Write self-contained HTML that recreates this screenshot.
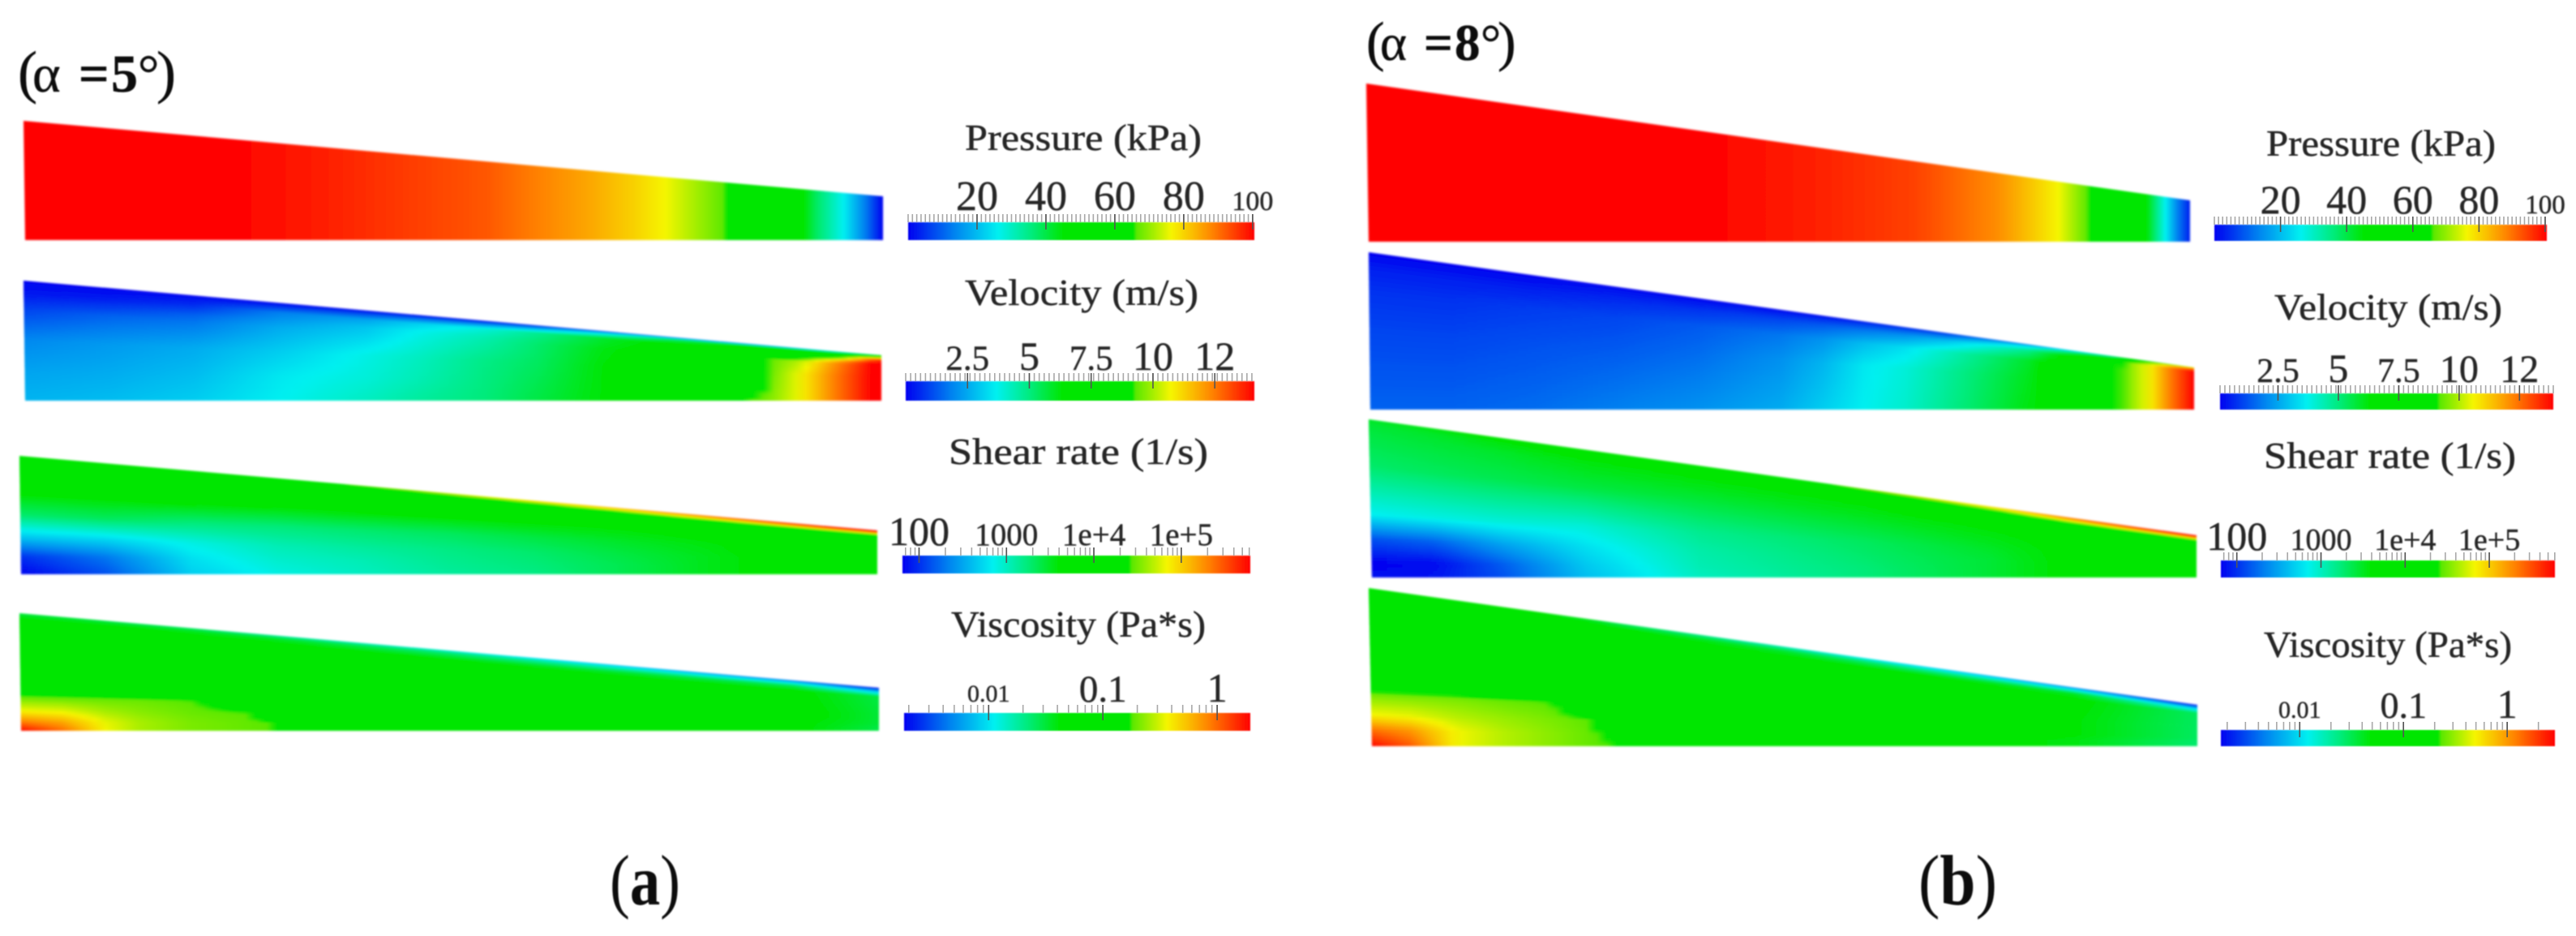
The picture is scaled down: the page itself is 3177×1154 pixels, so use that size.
<!DOCTYPE html>
<html lang="en">
<head>
<meta charset="utf-8">
<title>Pressure, velocity, shear rate and viscosity fields in a wedge gap</title>
<style>
html,body{margin:0;padding:0;background:#fff;width:3177px;height:1154px;overflow:hidden}
svg{display:block}
text{font-family:"Liberation Serif",serif;fill:#262626;stroke:#262626;stroke-width:.45px}
</style>
</head>
<body>
<svg id="figure" xmlns="http://www.w3.org/2000/svg" width="3177" height="1154" viewBox="0 0 3177 1154">
  <defs id="defs">
    <filter id="soft" x="-2%" y="-5%" width="104%" height="110%"><feGaussianBlur stdDeviation="1.2"/></filter>
    <filter id="softText" x="-5%" y="-5%" width="110%" height="110%"><feGaussianBlur stdDeviation="0.7"/></filter>
  </defs>
  <rect width="3177" height="1154" fill="#fff"/>
  <g id="fields"></g>
  <g id="legends"></g>
  <g filter="url(#softText)">
    <text y="113" font-size="66" style="fill:#111;stroke:#111"><tspan x="22" font-size="72">(</tspan><tspan x="40">α</tspan><tspan x="97" font-weight="bold">=</tspan><tspan x="137" font-weight="bold">5</tspan><tspan x="170">°</tspan><tspan x="193" font-size="72">)</tspan></text>
    <text y="74" font-size="63" style="fill:#111;stroke:#111"><tspan x="1685" font-size="68">(</tspan><tspan x="1702">α</tspan><tspan x="1756" font-weight="bold">=</tspan><tspan x="1794" font-weight="bold">8</tspan><tspan x="1826">°</tspan><tspan x="1847" font-size="68">)</tspan></text>

    <text x="1190" y="185" font-size="45" textLength="292" lengthAdjust="spacingAndGlyphs">Pressure (kPa)</text>
    <text x="1190" y="376" font-size="45" textLength="288" lengthAdjust="spacingAndGlyphs">Velocity (m/s)</text>
    <text x="1170" y="572" font-size="45" textLength="320" lengthAdjust="spacingAndGlyphs">Shear rate (1/s)</text>
    <text x="1173" y="785" font-size="45" textLength="314" lengthAdjust="spacingAndGlyphs">Viscosity (Pa*s)</text>

    <text x="2795" y="192" font-size="45" textLength="283" lengthAdjust="spacingAndGlyphs">Pressure (kPa)</text>
    <text x="2805" y="394" font-size="45" textLength="281" lengthAdjust="spacingAndGlyphs">Velocity (m/s)</text>
    <text x="2792" y="577" font-size="45" textLength="311" lengthAdjust="spacingAndGlyphs">Shear rate (1/s)</text>
    <text x="2792" y="810" font-size="45" textLength="306" lengthAdjust="spacingAndGlyphs">Viscosity (Pa*s)</text>

    <text x="752" y="1115" font-size="88" textLength="87" lengthAdjust="spacingAndGlyphs" style="fill:#111;stroke:none">(<tspan font-weight="bold">a</tspan>)</text>
    <text x="2366" y="1115" font-size="88" textLength="97" lengthAdjust="spacingAndGlyphs" style="fill:#111;stroke:none">(<tspan font-weight="bold">b</tspan>)</text>
  </g>
</svg>
<script>
// ---- Colour scale (fraction of colorbar -> rainbow colour) ----
const cmapPositions = [0, .13, .26, .36, .45, .65, .66, .76, .82, .88, 1];
const cmapRed       = [0, 0, 0, 0, 0, 0, 90, 245, 250, 255, 255];
const cmapGreen     = [0, 128, 240, 235, 230, 230, 232, 245, 190, 130, 0];
const cmapBlue      = [240, 240, 240, 120, 0, 0, 0, 0, 0, 0, 0];

// ---- Colorbar tick data ----
const pressureTickValues = [20, 40, 60, 80, 100];
const pressureTickLabels = ['20', '40', '60', '80', '100'];
const velocityTickValues = [2.5, 5, 7.5, 10, 12.5];
const velocityTickLabels = ['2.5', '5', '7.5', '10', '12'];
const shearTickValues = [100, 1000, 10000, 100000];
const shearTickLabels = ['100', '1000', '1e+4', '1e+5'];
const viscosityTickValues = [0.01, 0.1, 1];
const viscosityTickLabels = ['0.01', '0.1', '1'];

// ---- Field readings: colorbar fraction at stations along the wedge (columns) and depths across the gap (rows) ----
const pressureAStations = [0, .24, .36, .538, .6, .663, .71, .746, .815, .819, .904, .922, .954, .979, 1];
const pressureADepths = [0, 1];
const pressureAGrid = [
  [1, 1, .97, .92, .88, .84, .8, .76, .66, .645, .47, .38, .26, .13, 0],
  [1, 1, .97, .92, .88, .84, .8, .76, .66, .645, .47, .38, .26, .13, 0]
];

const pressureBStations = [0, .41, .55, .666, .765, .795, .84, .875, .88, .945, .97, .985, 1];
const pressureBDepths = [0, 1];
const pressureBGrid = [
  [1, 1, .97, .94, .87, .83, .76, .66, .645, .47, .26, .13, .03],
  [1, 1, .97, .94, .87, .83, .76, .66, .645, .47, .26, .13, .03]
];

const velocityAStations = [0, .1, .2, .3, .4, .46, .54, .6, .68, .75, .843, .868, .906, .944, .989, 1];
const velocityADepths = [0, .03, .1, .19, .25, .5, .75, 1];
const velocityAGrid = [
  [0, 0, 0, 0, 0, 0, 0, .02, .03, .05, .08, .1, .15, .2, .35, .45],
  [.01, .01, .02, .04, .06, .08, .1, .14, .25, .35, .44, .45, .46, .48, .55, .6],
  [.02, .03, .05, .13, .17, .22, .28, .34, .42, .46, .47, .47, .5, .55, .9, .95],
  [.05, .07, .1, .16, .21, .26, .31, .36, .43, .47, .48, .5, .63, .8, 1, 1],
  [.07, .1, .12, .18, .22, .27, .32, .37, .44, .47, .5, .66, .72, .86, 1, 1],
  [.14, .16, .18, .22, .27, .3, .35, .38, .45, .47, .5, .66, .76, .88, 1, 1],
  [.17, .18, .2, .25, .28, .31, .355, .39, .45, .47, .55, .67, .76, .88, 1, 1],
  [.19, .2, .22, .26, .3, .33, .36, .4, .45, .47, .66, .68, .76, .88, 1, 1]
];

const velocityBStations = [0, .1, .2, .3, .4, .5, .55, .6, .65, .7, .8, .9, .92, .95, .97, 1];
const velocityBDepths = [0, .03, .1, .25, .5, 1];
const velocityBGrid = [
  [0, 0, 0, 0, 0, 0, 0, .02, .03, .05, .1, .3, .4, .5, .6, .7],
  [.01, .01, .01, .02, .02, .03, .04, .06, .08, .1, .25, .45, .55, .7, .8, .9],
  [.03, .03, .03, .04, .05, .07, .09, .12, .15, .2, .35, .6, .68, .78, .88, 1],
  [.05, .05, .06, .07, .09, .12, .15, .2, .24, .3, .42, .62, .68, .78, .88, 1],
  [.07, .07, .08, .09, .11, .15, .19, .25, .28, .33, .43, .62, .68, .78, .88, 1],
  [.1, .1, .11, .13, .15, .18, .22, .26, .29, .34, .44, .62, .68, .78, .88, 1]
];

const shearAStations = [0, .1, .2, .3, .4, .5, .6, .7, .8, .9, 1];
const shearADepths = [0, .04, .1, .3, .5, .7, .85, 1];
const shearAGrid = [
  [.5, .5, .5, .6, .68, .74, .8, .85, .9, .96, 1],
  [.47, .47, .47, .47, .5, .6, .65, .72, .8, .88, .95],
  [.46, .46, .46, .46, .46, .46, .47, .48, .55, .6, .66],
  [.46, .46, .46, .45, .45, .45, .45, .45, .46, .47, .47],
  [.37, .38, .36, .36, .37, .38, .4, .42, .44, .47, .47],
  [.2, .22, .27, .31, .33, .35, .37, .4, .43, .47, .47],
  [.05, .12, .24, .29, .31, .34, .36, .39, .43, .47, .47],
  [0, .08, .22, .27, .3, .33, .35, .39, .43, .47, .47]
];

const shearBStations = [0, .08, .16, .26, .4, .6, .75, .85, 1];
const shearBDepths = [0, .04, .1, .3, .6, .76, .91, 1];
const shearBGrid = [
  [.42, .44, .46, .48, .5, .7, .8, .9, 1],
  [.41, .42, .44, .46, .46, .55, .68, .82, .95],
  [.4, .41, .42, .44, .45, .46, .5, .6, .68],
  [.37, .38, .39, .4, .41, .43, .45, .46, .47],
  [.26, .27, .28, .28, .34, .38, .42, .46, .47],
  [.08, .1, .17, .24, .32, .37, .41, .46, .47],
  [0, .01, .09, .21, .31, .36, .41, .46, .47],
  [.01, .02, .08, .2, .3, .36, .41, .46, .47]
];

const viscosityAStations = [0, .05, .1, .14, .2, .27, .29, .31, .5, .9, 1];
const viscosityADepths = [0, .03, .1, .2, .6, .66, .72, .83, .92, 1];
const viscosityAGrid = [
  [.4, .4, .39, .38, .37, .34, .33, .32, .27, .1, 0],
  [.44, .44, .44, .44, .43, .42, .42, .41, .36, .2, .06],
  [.47, .47, .47, .47, .47, .47, .47, .47, .44, .38, .22],
  [.5, .5, .5, .5, .5, .5, .5, .5, .5, .46, .4],
  [.5, .5, .5, .5, .5, .5, .5, .5, .5, .47, .41],
  [.6, .6, .6, .6, .58, .5, .5, .5, .5, .47, .41],
  [.67, .67, .67, .67, .66, .6, .5, .5, .5, .47, .41],
  [.76, .75, .71, .69, .67, .66, .58, .5, .5, .46, .41],
  [.88, .84, .75, .71, .68, .665, .66, .55, .5, .46, .4],
  [1, .9, .76, .71, .68, .665, .66, .5, .5, .46, .4]
];

const viscosityBStations = [0, .05, .105, .16, .22, .27, .29, .31, .5, .85, 1];
const viscosityBDepths = [0, .04, .1, .2, .55, .6, .68, .8, .9, 1];
const viscosityBGrid = [
  [.45, .45, .45, .45, .44, .42, .4, .38, .3, .12, 0],
  [.46, .46, .46, .46, .46, .46, .45, .45, .41, .26, .08],
  [.47, .47, .47, .47, .47, .47, .47, .47, .46, .42, .24],
  [.5, .5, .5, .5, .5, .5, .5, .5, .5, .46, .38],
  [.5, .5, .5, .5, .5, .5, .5, .5, .5, .45, .38],
  [.58, .58, .58, .58, .52, .5, .5, .5, .5, .45, .38],
  [.68, .68, .68, .67, .66, .55, .5, .5, .5, .45, .38],
  [.76, .75, .72, .7, .68, .66, .55, .5, .5, .45, .38],
  [.9, .86, .76, .72, .69, .665, .64, .52, .5, .44, .37],
  [1, .92, .76, .72, .69, .665, .66, .5, .5, .44, .37]
];

// ---- Layout (wedge outlines and colorbar boxes) ----
const fieldLayout = [
  {name:'pressure-a',  stations:pressureAStations,  depths:pressureADepths,  grid:pressureAGrid,  tlx:29,   tly:149, blx:31,   trx:1089, try_:242, bot:296},
  {name:'velocity-a',  stations:velocityAStations,  depths:velocityADepths,  grid:velocityAGrid,  tlx:29,   tly:346, blx:31,   trx:1087, try_:438, bot:494},
  {name:'shear-a',     stations:shearAStations,     depths:shearADepths,     grid:shearAGrid,     tlx:24,   tly:562, blx:26,   trx:1082, try_:654, bot:708},
  {name:'viscosity-a', stations:viscosityAStations, depths:viscosityADepths, grid:viscosityAGrid, tlx:24,   tly:756, blx:26,   trx:1084, try_:848, bot:901},
  {name:'pressure-b',  stations:pressureBStations,  depths:pressureBDepths,  grid:pressureBGrid,  tlx:1685, tly:103, blx:1688, trx:2701, try_:247, bot:298},
  {name:'velocity-b',  stations:velocityBStations,  depths:velocityBDepths,  grid:velocityBGrid,  tlx:1688, tly:311, blx:1690, trx:2706, try_:453, bot:505},
  {name:'shear-b',     stations:shearBStations,     depths:shearBDepths,     grid:shearBGrid,     tlx:1688, tly:517, blx:1692, trx:2709, try_:660, bot:712},
  {name:'viscosity-b', stations:viscosityBStations, depths:viscosityBDepths, grid:viscosityBGrid, tlx:1688, tly:725, blx:1692, trx:2710, try_:869, bot:920}
];

const legendLayout = [
  {name:'pressure-a',  ticks:pressureTickValues,  labels:pressureTickLabels,  log:false, lo:0,     hi:100.5, minor:1.25, x0:1120, x1:1547, y0:274, y1:296, base:259, px:[52,52,52,52,34]},
  {name:'velocity-a',  ticks:velocityTickValues,  labels:velocityTickLabels,  log:false, lo:0,     hi:14.1,  minor:.2,   x0:1117, x1:1547, y0:470, y1:494, base:456, px:[43,50,43,50,50]},
  {name:'shear-a',     ticks:shearTickValues,     labels:shearTickLabels,     log:true,  lo:1.81,  hi:5.79,  minor:0,    x0:1113, x1:1542, y0:685, y1:707, base:672, px:[50,39,39,39]},
  {name:'viscosity-a', ticks:viscosityTickValues, labels:viscosityTickLabels, log:true,  lo:-2.74, hi:.29,   minor:0,    x0:1115, x1:1542, y0:879, y1:901, base:865, px:[30,47,50]},
  {name:'pressure-b',  ticks:pressureTickValues,  labels:pressureTickLabels,  log:false, lo:0,     hi:100.5, minor:1.25, x0:2731, x1:3141, y0:277, y1:297, base:263, px:[50,50,50,50,33]},
  {name:'velocity-b',  ticks:velocityTickValues,  labels:velocityTickLabels,  log:false, lo:.1,    hi:13.9,  minor:.2,   x0:2738, x1:3149, y0:485, y1:505, base:471, px:[42,50,42,48,48]},
  {name:'shear-b',     ticks:shearTickValues,     labels:shearTickLabels,     log:true,  lo:1.81,  hi:5.78,  minor:0,    x0:2739, x1:3151, y0:691, y1:712, base:678, px:[50,38,38,38]},
  {name:'viscosity-b', ticks:viscosityTickValues, labels:viscosityTickLabels, log:true,  lo:-2.76, hi:.46,   minor:0,    x0:2739, x1:3151, y0:900, y1:920, base:885, px:[30,46,50]}
];

const NS = 'http://www.w3.org/2000/svg';
const defs = document.getElementById('defs');
const fieldsGroup = document.getElementById('fields');
const legendsGroup = document.getElementById('legends');
let gradId = 0;

function mix(a, b, t) { return a + (b - a) * t; }

function bracket(list, x) {
  let i = 0;
  while (i < list.length - 2 && x > list[i + 1]) i++;
  const span = list[i + 1] - list[i];
  const f = span === 0 ? 0 : Math.max(0, Math.min(1, (x - list[i]) / span));
  return [i, f];
}

function colorOf(t) {
  const [i, f] = bracket(cmapPositions, t);
  const r = Math.round(mix(cmapRed[i], cmapRed[i + 1], f));
  const g = Math.round(mix(cmapGreen[i], cmapGreen[i + 1], f));
  const b = Math.round(mix(cmapBlue[i], cmapBlue[i + 1], f));
  return 'rgb(' + r + ',' + g + ',' + b + ')';
}

function readField(f, u, v) {
  const [c, cf] = bracket(f.stations, u);
  const [r, rf] = bracket(f.depths, v);
  const top = mix(f.grid[r][c], f.grid[r][c + 1], cf);
  const low = mix(f.grid[r + 1][c], f.grid[r + 1][c + 1], cf);
  return mix(top, low, rf);
}

function makeGradient(x1, x2, samples, colorAt) {
  const id = 'grad' + (gradId++);
  const grad = document.createElementNS(NS, 'linearGradient');
  grad.setAttribute('id', id);
  grad.setAttribute('gradientUnits', 'userSpaceOnUse');
  grad.setAttribute('x1', x1);
  grad.setAttribute('x2', x2);
  grad.setAttribute('y1', 0);
  grad.setAttribute('y2', 0);
  for (let s = 0; s <= samples; s++) {
    const stop = document.createElementNS(NS, 'stop');
    stop.setAttribute('offset', s / samples);
    stop.setAttribute('stop-color', colorAt(s / samples));
    grad.appendChild(stop);
  }
  defs.appendChild(grad);
  return id;
}

function drawField(f) {
  const g = document.createElementNS(NS, 'g');
  
  
  g.setAttribute('filter', 'url(#soft)');
  const strips = f.depths.length === 2 ? 1 : 60;
  const samples = f.depths.length === 2 ? 300 : 80;
  const height = f.bot - f.tly;
  for (let k = 0; k < strips; k++) {
    const v0 = Math.pow(k / strips, 1.3);
    const v1 = Math.pow((k + 1) / strips, 1.3);
    const vm = (v0 + v1) / 2;
    const id = makeGradient(f.tlx, f.trx, samples, function (u) { return colorOf(readField(f, u, vm)); });
    const ve = Math.min(1, v1 + 1.5 / height);
    const pts = [
      [mix(f.tlx, f.blx, v0), mix(f.tly, f.bot, v0)],
      [f.trx, mix(f.try_, f.bot, v0)],
      [f.trx, mix(f.try_, f.bot, ve)],
      [mix(f.tlx, f.blx, ve), mix(f.tly, f.bot, ve)]
    ];
    const poly = document.createElementNS(NS, 'polygon');
    
    
    poly.setAttribute('points', pts.map(function (p) { return p[0].toFixed(1) + ',' + p[1].toFixed(1); }).join(' '));
    poly.setAttribute('fill', 'url(#' + id + ')');
    g.appendChild(poly);
  }
  fieldsGroup.appendChild(g);
}

function axisScale(l) {
  return function (value) {
    const q = l.log ? Math.log10(value) : value;
    return l.x0 + (q - l.lo) / (l.hi - l.lo) * (l.x1 - l.x0);
  };
}

function minorValues(l) {
  const out = [];
  if (l.log) {
    for (let d = Math.floor(l.lo); d <= Math.ceil(l.hi); d++) {
      for (let m = 1; m <= 9; m++) {
        const val = m * Math.pow(10, d);
        const q = Math.log10(val);
        if (q >= l.lo && q <= l.hi) out.push(val);
      }
    }
  } else {
    for (let val = l.lo; val <= l.hi; val += l.minor) out.push(val);
  }
  return out;
}

function drawLegend(l) {
  const x = axisScale(l);
  const g = document.createElementNS(NS, 'g');
  
  

  const id = makeGradient(l.x0, l.x1, 100, colorOf);
  const bar = document.createElementNS(NS, 'rect');
  
  
  bar.setAttribute('x', l.x0);
  bar.setAttribute('y', l.y0);
  bar.setAttribute('width', l.x1 - l.x0);
  bar.setAttribute('height', l.y1 - l.y0);
  bar.setAttribute('fill', 'url(#' + id + ')');
  bar.setAttribute('filter', 'url(#softText)');
  g.appendChild(bar);

  minorValues(l).forEach(function (val) {
    const tick = document.createElementNS(NS, 'line');
    
    
    tick.setAttribute('x1', x(val));
    tick.setAttribute('x2', x(val));
    tick.setAttribute('y1', l.y0 - 10);
    tick.setAttribute('y2', l.y0);
    tick.setAttribute('stroke', '#a8a8a8');
    tick.setAttribute('stroke-width', 1.6);
    g.appendChild(tick);
  });

  l.ticks.forEach(function (val, i) {
    const tick = document.createElementNS(NS, 'line');
    
    
    tick.setAttribute('x1', x(val));
    tick.setAttribute('x2', x(val));
    tick.setAttribute('y1', l.y0 - 10);
    tick.setAttribute('y2', l.y0 + 9);
    tick.setAttribute('stroke', '#555');
    tick.setAttribute('stroke-width', 1.6);
    g.appendChild(tick);

    const label = document.createElementNS(NS, 'text');
    
    
    label.setAttribute('x', x(val));
    label.setAttribute('y', l.base);
    label.setAttribute('text-anchor', 'middle');
    label.setAttribute('font-size', l.px[i]);
    label.setAttribute('filter', 'url(#softText)');
    label.textContent = l.labels[i];
    g.appendChild(label);
  });

  legendsGroup.appendChild(g);
}

fieldLayout.forEach(drawField);
legendLayout.forEach(drawLegend);
</script>
</body>
</html>
